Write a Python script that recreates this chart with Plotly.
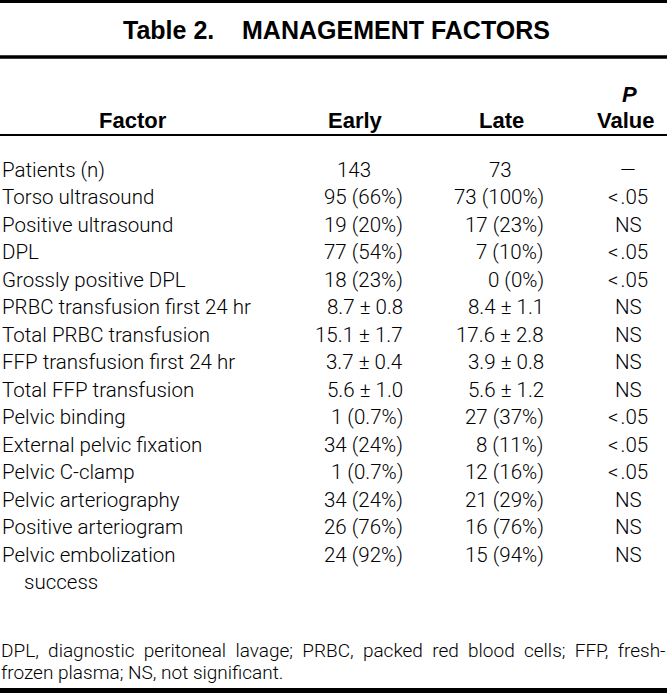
import plotly.graph_objects as go

# ---------------- data ----------------
title_text = "Table 2.\u00a0\u00a0\u00a0\u00a0MANAGEMENT FACTORS"
header_cols = ["Factor", "Early", "Late", "Value"]
header_p = "P"

factors = [
    "Patients (n)", "Torso ultrasound", "Positive ultrasound", "DPL",
    "Grossly positive DPL", "PRBC transfusion first 24 hr",
    "Total PRBC transfusion", "FFP transfusion first 24 hr",
    "Total FFP transfusion", "Pelvic binding", "External pelvic fixation",
    "Pelvic C-clamp", "Pelvic arteriography", "Positive arteriogram",
    "Pelvic embolization",
]
factor_continuation = "success"
early = [
    "143", "95 (66%)", "19 (20%)", "77 (54%)", "18 (23%)", "8.7 ± 0.8",
    "15.1 ± 1.7", "3.7 ± 0.4", "5.6 ± 1.0", "1 (0.7%)", "34 (24%)",
    "1 (0.7%)", "34 (24%)", "26 (76%)", "24 (92%)",
]
late = [
    "73", "73 (100%)", "17 (23%)", "7 (10%)", "0 (0%)", "8.4 ± 1.1",
    "17.6 ± 2.8", "3.9 ± 0.8", "5.6 ± 1.2", "27 (37%)", "8 (11%)",
    "12 (16%)", "21 (29%)", "16 (76%)", "15 (94%)",
]
p_value = [
    "—", "<.05", "NS", "<.05", "<.05", "NS", "NS", "NS", "NS",
    "<.05", "<.05", "<.05", "NS", "NS", "NS",
]
footnote_words = [
    ["DPL,", "diagnostic", "peritoneal", "lavage;", "PRBC,", "packed", "red",
     "blood", "cells;", "FFP,", "fresh-"],
    ["frozen", "plasma;", "NS,", "not", "significant."],
]

# ---------------- layout constants ----------------
W, H = 667, 693
BODY_FONT = "Roboto, Liberation Sans, Arial, sans-serif"
BODY_WEIGHT = 300
HEAD_FONT = "Liberation Sans, Arial, Helvetica, sans-serif"
BODY_SIZE = 20.5
HEAD_SIZE = 22
TITLE_SIZE = 25
FOOT_SIZE = 19

ROW0 = 169.5
PITCH = 27.5
X_LABEL = 1
X_INDENT = 23
X_EARLY_R = 404
X_EARLY_C = 354
X_LATE_R = 545
X_LATE_C = 500.5
X_P_C = 628


def esc(s):
    s = s.replace("&", "&amp;").replace("<", "&lt;\u200a").replace(">", "&gt;")
    return s


annotations = []


def add(text, x, y, size, xanchor="left", bold=False, family=BODY_FONT, weight=BODY_WEIGHT):
    annotations.append(dict(
        text=text,
        x=x, y=y, xref="x", yref="y", showarrow=False,
        xanchor=xanchor, yanchor="middle",
        font=dict(family=family, size=size, color="#000000",
                  weight=700 if bold else weight),
        borderpad=0,
    ))


# title
add(title_text, 336, 30, TITLE_SIZE, "center", bold=True, family=HEAD_FONT)

# header
add(header_cols[0], 133, 120, HEAD_SIZE, "center", bold=True, family=HEAD_FONT)
add(header_cols[1], 355, 120, HEAD_SIZE, "center", bold=True, family=HEAD_FONT)
add(header_cols[2], 501, 120, HEAD_SIZE, "center", bold=True, family=HEAD_FONT)
add(header_cols[3], 625, 120, HEAD_SIZE, "center", bold=True, family=HEAD_FONT)
add(f"<i>{header_p}</i>", 629, 94, HEAD_SIZE, "center", bold=True, family=HEAD_FONT)

# body
for i, (f, e, l, p) in enumerate(zip(factors, early, late, p_value)):
    y = ROW0 + PITCH * i
    add(esc(f), X_LABEL, y, BODY_SIZE, "left")
    if i == 0:
        add(esc(e), X_EARLY_C, y, BODY_SIZE, "center")
        add(esc(l), X_LATE_C, y, BODY_SIZE, "center")
    else:
        add(esc(e), X_EARLY_R, y, BODY_SIZE, "right")
        add(esc(l), X_LATE_R, y, BODY_SIZE, "right")
    add(esc(p), X_P_C, y, BODY_SIZE, "center")

add(esc(factor_continuation), X_INDENT, ROW0 + PITCH * len(factors), BODY_SIZE, "left")

# footnote: first line justified (wider word gaps), second left-aligned
txt1 = " \u00a0".join(esc(w) for w in footnote_words[0])
add(txt1, 0, 650, FOOT_SIZE, "left")
add(esc(" ".join(footnote_words[1])), 0, 672, FOOT_SIZE, "left")

# rules
shapes = []
for yc, lw in [(1.5, 3), (57, 3.5), (135, 2), (690.5, 5)]:
    shapes.append(dict(type="line", xref="x", yref="y", x0=0, x1=W, y0=yc, y1=yc,
                       line=dict(color="#000000", width=lw)))

fig = go.Figure()
fig.add_trace(go.Scatter(x=[0, W], y=[0, H], mode="markers",
                         marker=dict(opacity=0), hoverinfo="skip", showlegend=False))
fig.update_layout(
    width=W, height=H, autosize=False,
    margin=dict(l=0, r=0, t=0, b=0, pad=0),
    paper_bgcolor="white", plot_bgcolor="white",
    xaxis=dict(range=[0, W], visible=False, fixedrange=True),
    yaxis=dict(range=[H, 0], visible=False, fixedrange=True),
    annotations=annotations, shapes=shapes, showlegend=False,
)
fig.write_html("out.html", config={"displayModeBar": False},
               post_script="document.body.style.margin='0';")
